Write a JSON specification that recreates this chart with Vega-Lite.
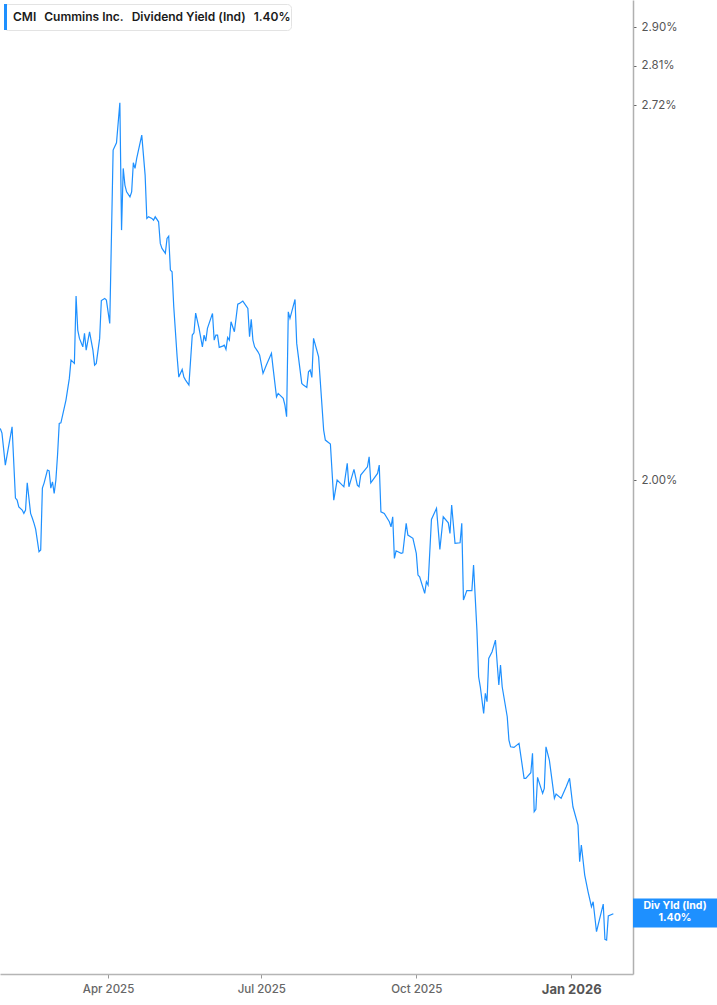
{
"$schema": "https://vega.github.io/schema/vega-lite/v6.json",
"width": 633, "height": 974, "autosize": {"type": "none"}, "padding": {"left": 0, "top": 0, "right": 84, "bottom": 31}, "background": "white",
"config": {"view": {"stroke": null}, "font": "Inter"},
"layer": [
{
"data": {"values": [
{"d":"2025-01-27","v":2.0867},{"d":"2025-01-28","v":2.0787},{"d":"2025-01-30","v":2.0248},{"d":"2025-02-03","v":2.0894},{"d":"2025-02-05","v":1.9707},{"d":"2025-02-06","v":1.9674},{"d":"2025-02-07","v":1.9566},{"d":"2025-02-09","v":1.9514},{"d":"2025-02-10","v":1.9461},{"d":"2025-02-11","v":1.9514},{"d":"2025-02-12","v":1.9956},{"d":"2025-02-14","v":1.9461},{"d":"2025-02-15","v":1.9386},{"d":"2025-02-16","v":1.9306},{"d":"2025-02-17","v":1.9212},{"d":"2025-02-19","v":1.8857},{"d":"2025-02-20","v":1.8883},{"d":"2025-02-21","v":1.9869},{"d":"2025-02-22","v":1.9951},{"d":"2025-02-24","v":2.0165},{"d":"2025-02-25","v":2.0153},{"d":"2025-02-26","v":1.9869},{"d":"2025-02-27","v":1.9972},{"d":"2025-02-28","v":1.9783},{"d":"2025-03-01","v":2.0000},{"d":"2025-03-02","v":2.0415},{"d":"2025-03-03","v":2.0953},{"d":"2025-03-04","v":2.0963},{"d":"2025-03-07","v":2.1357},{"d":"2025-03-09","v":2.1741},{"d":"2025-03-10","v":2.2070},{"d":"2025-03-12","v":2.2010},{"d":"2025-03-13","v":2.3260},{"d":"2025-03-14","v":2.2620},{"d":"2025-03-15","v":2.2467},{"d":"2025-03-17","v":2.2312},{"d":"2025-03-18","v":2.2559},{"d":"2025-03-19","v":2.2252},{"d":"2025-03-21","v":2.2589},{"d":"2025-03-23","v":2.2252},{"d":"2025-03-24","v":2.1980},{"d":"2025-03-25","v":2.2010},{"d":"2025-03-27","v":2.2467},{"d":"2025-03-28","v":2.3175},{"d":"2025-03-30","v":2.3216},{"d":"2025-03-31","v":2.3184},{"d":"2025-04-02","v":2.2745},{"d":"2025-04-04","v":2.6222},{"d":"2025-04-06","v":2.6379},{"d":"2025-04-08","v":2.7259},{"d":"2025-04-09","v":2.4555},{"d":"2025-04-10","v":2.5831},{"d":"2025-04-11","v":2.5479},{"d":"2025-04-12","v":2.5339},{"d":"2025-04-14","v":2.5235},{"d":"2025-04-15","v":2.5339},{"d":"2025-04-16","v":2.5950},{"d":"2025-04-17","v":2.5831},{"d":"2025-04-18","v":2.6043},{"d":"2025-04-21","v":2.6546},{"d":"2025-04-23","v":2.5689},{"d":"2025-04-24","v":2.4792},{"d":"2025-04-25","v":2.4825},{"d":"2025-04-27","v":2.4792},{"d":"2025-04-28","v":2.4757},{"d":"2025-04-29","v":2.4825},{"d":"2025-05-01","v":2.4723},{"d":"2025-05-02","v":2.4289},{"d":"2025-05-03","v":2.4189},{"d":"2025-05-05","v":2.4090},{"d":"2025-05-06","v":2.4388},{"d":"2025-05-07","v":2.4434},{"d":"2025-05-08","v":2.3762},{"d":"2025-05-09","v":2.3729},{"d":"2025-05-10","v":2.3057},{"d":"2025-05-12","v":2.2130},{"d":"2025-05-13","v":2.1764},{"d":"2025-05-15","v":2.1902},{"d":"2025-05-16","v":2.1764},{"d":"2025-05-17","v":2.1711},{"d":"2025-05-19","v":2.1622},{"d":"2025-05-21","v":2.2528},{"d":"2025-05-22","v":2.2570},{"d":"2025-05-23","v":2.2938},{"d":"2025-05-25","v":2.2657},{"d":"2025-05-27","v":2.2312},{"d":"2025-05-28","v":2.2528},{"d":"2025-05-29","v":2.2417},{"d":"2025-05-30","v":2.2652},{"d":"2025-06-02","v":2.2932},{"d":"2025-06-03","v":2.2435},{"d":"2025-06-04","v":2.2528},{"d":"2025-06-05","v":2.2528},{"d":"2025-06-06","v":2.2301},{"d":"2025-06-08","v":2.2325},{"d":"2025-06-09","v":2.2343},{"d":"2025-06-10","v":2.2265},{"d":"2025-06-11","v":2.2485},{"d":"2025-06-12","v":2.2435},{"d":"2025-06-13","v":2.2775},{"d":"2025-06-15","v":2.2589},{"d":"2025-06-17","v":2.3108},{"d":"2025-06-18","v":2.3121},{"d":"2025-06-20","v":2.3165},{"d":"2025-06-23","v":2.3027},{"d":"2025-06-24","v":2.2496},{"d":"2025-06-25","v":2.2820},{"d":"2025-06-26","v":2.2435},{"d":"2025-06-27","v":2.2312},{"d":"2025-06-29","v":2.2221},{"d":"2025-06-30","v":2.2161},{"d":"2025-07-02","v":2.1830},{"d":"2025-07-04","v":2.1980},{"d":"2025-07-07","v":2.2192},{"d":"2025-07-08","v":2.1920},{"d":"2025-07-10","v":2.1415},{"d":"2025-07-11","v":2.1475},{"d":"2025-07-14","v":2.1387},{"d":"2025-07-15","v":2.1270},{"d":"2025-07-16","v":2.1067},{"d":"2025-07-17","v":2.2963},{"d":"2025-07-18","v":2.2839},{"d":"2025-07-21","v":2.3197},{"d":"2025-07-22","v":2.2375},{"d":"2025-07-25","v":2.1652},{"d":"2025-07-26","v":2.1622},{"d":"2025-07-28","v":2.1581},{"d":"2025-07-29","v":2.1859},{"d":"2025-07-30","v":2.1890},{"d":"2025-07-31","v":2.1759},{"d":"2025-08-01","v":2.2467},{"d":"2025-08-04","v":2.2130},{"d":"2025-08-07","v":2.0838},{"d":"2025-08-08","v":2.0668},{"d":"2025-08-11","v":2.0600},{"d":"2025-08-13","v":1.9674},{"d":"2025-08-15","v":2.0000},{"d":"2025-08-17","v":1.9946},{"d":"2025-08-19","v":1.9890},{"d":"2025-08-21","v":2.0276},{"d":"2025-08-22","v":1.9890},{"d":"2025-08-25","v":2.0176},{"d":"2025-08-27","v":1.9918},{"d":"2025-08-28","v":1.9890},{"d":"2025-08-29","v":2.0082},{"d":"2025-09-02","v":2.0220},{"d":"2025-09-03","v":2.0386},{"d":"2025-09-04","v":1.9956},{"d":"2025-09-08","v":2.0110},{"d":"2025-09-09","v":2.0248},{"d":"2025-09-10","v":1.9486},{"d":"2025-09-12","v":1.9461},{"d":"2025-09-15","v":1.9327},{"d":"2025-09-16","v":1.9248},{"d":"2025-09-17","v":1.9407},{"d":"2025-09-18","v":1.8755},{"d":"2025-09-19","v":1.8872},{"d":"2025-09-22","v":1.8832},{"d":"2025-09-23","v":1.8842},{"d":"2025-09-25","v":1.9302},{"d":"2025-09-26","v":1.9117},{"d":"2025-09-29","v":1.9066},{"d":"2025-10-01","v":1.8832},{"d":"2025-10-02","v":1.8500},{"d":"2025-10-03","v":1.8474},{"d":"2025-10-06","v":1.8224},{"d":"2025-10-07","v":1.8398},{"d":"2025-10-08","v":1.8349},{"d":"2025-10-10","v":1.9365},{"d":"2025-10-13","v":1.9541},{"d":"2025-10-15","v":1.8894},{"d":"2025-10-17","v":1.9407},{"d":"2025-10-20","v":1.9311},{"d":"2025-10-21","v":1.9144},{"d":"2025-10-22","v":1.9594},{"d":"2025-10-24","v":1.8987},{"d":"2025-10-27","v":1.8997},{"d":"2025-10-28","v":1.9302},{"d":"2025-10-29","v":1.8124},{"d":"2025-10-31","v":1.8266},{"d":"2025-11-03","v":1.8266},{"d":"2025-11-04","v":1.8652},{"d":"2025-11-06","v":1.7683},{"d":"2025-11-07","v":1.7018},{"d":"2025-11-08","v":1.6879},{"d":"2025-11-10","v":1.6515},{"d":"2025-11-11","v":1.6788},{"d":"2025-11-12","v":1.6673},{"d":"2025-11-13","v":1.7277},{"d":"2025-11-15","v":1.7371},{"d":"2025-11-17","v":1.7539},{"d":"2025-11-19","v":1.6903},{"d":"2025-11-20","v":1.7183},{"d":"2025-11-21","v":1.6879},{"d":"2025-11-24","v":1.6469},{"d":"2025-11-25","v":1.6157},{"d":"2025-11-26","v":1.6068},{"d":"2025-11-28","v":1.6060},{"d":"2025-12-01","v":1.6113},{"d":"2025-12-04","v":1.5657},{"d":"2025-12-05","v":1.5657},{"d":"2025-12-08","v":1.5729},{"d":"2025-12-09","v":1.5981},{"d":"2025-12-10","v":1.5233},{"d":"2025-12-11","v":1.5263},{"d":"2025-12-12","v":1.5670},{"d":"2025-12-15","v":1.5465},{"d":"2025-12-16","v":1.5529},{"d":"2025-12-17","v":1.6068},{"d":"2025-12-19","v":1.5894},{"d":"2025-12-22","v":1.5402},{"d":"2025-12-23","v":1.5456},{"d":"2025-12-26","v":1.5402},{"d":"2025-12-29","v":1.5549},{"d":"2025-12-31","v":1.5657},{"d":"2026-01-02","v":1.5296},{"d":"2026-01-05","v":1.5068},{"d":"2026-01-06","v":1.4621},{"d":"2026-01-07","v":1.4823},{"d":"2026-01-09","v":1.4462},{"d":"2026-01-11","v":1.4265},{"d":"2026-01-13","v":1.4091},{"d":"2026-01-14","v":1.4149},{"d":"2026-01-16","v":1.3805},{"d":"2026-01-20","v":1.4122},{"d":"2026-01-21","v":1.3719},{"d":"2026-01-22","v":1.3711},{"d":"2026-01-23","v":1.3984},{"d":"2026-01-26","v":1.4010}
]},
"mark": {"type": "line", "strokeWidth": 1.2},
"encoding": {
"x": {"field": "d", "type": "temporal",
 "scale": {"type": "utc", "nice": false, "domain": [{"year":2025,"month":1,"date":26,"hours":20,"utc":true},{"year":2026,"month":2,"date":6,"hours":16,"utc":true}]},
 "axis": {"title": null, "grid": false,
  "values": [{"year":2025,"month":4,"date":1,"utc":true},{"year":2025,"month":7,"date":1,"utc":true},{"year":2025,"month":10,"date":1,"utc":true},{"year":2026,"month":1,"date":1,"utc":true}],
  "labelExpr": "utcFormat(datum.value, '%b %Y')",
  "domainColor": "#b5b5b5", "domainWidth": 1.5, "tickColor": "#999999", "tickSize": 4,
  "labelFont": "Inter", "labelPadding": 5, "labelFlush": false, "labelOverlap": false,
  "labelColor": {"condition": {"test": "utcmonth(datum.value) == 0", "value": "#555555"}, "value": "#666666"},
  "labelFontWeight": {"condition": {"test": "utcmonth(datum.value) == 0", "value": "bold"}, "value": 500},
  "labelFontSize": {"condition": {"test": "utcmonth(datum.value) == 0", "value": 13}, "value": 11.5}}},
"y": {"field": "v", "type": "quantitative",
 "scale": {"type": "log", "nice": false, "zero": false, "domain": [1.3334, 2.966]},
 "axis": {"orient": "right", "title": null, "grid": false, "values": [2.0, 2.72, 2.81, 2.9],
  "labelExpr": "format(datum.value, '.2f') + '%'",
  "domainColor": "#b0b0b0", "domainWidth": 1.5, "tickColor": "#666666", "tickSize": 3,
  "labelFont": "Inter", "labelColor": "#555555", "labelFontSize": 11.5, "labelPadding": 5}},
"color": {"datum": "CMI\u00a0\u00a0\u2009Cummins Inc.\u00a0\u00a0\u2009Dividend Yield (Ind)\u00a0\u00a0\u20091.40%\u00a0\u00a0",
 "scale": {"range": ["#1e90ff"]},
 "legend": {"orient": "top-left", "offset": 4, "title": null, "padding": 0,
  "fillColor": "white", "strokeColor": "#e3e3e3", "cornerRadius": 4,
  "symbolType": "M-1,-1H-0.77V1H-1Z", "symbolSize": 676, "symbolOffset": 0,
  "labelFont": "Inter", "labelFontSize": 12, "labelFontWeight": 600, "labelColor": "#1a1a1a",
  "labelOffset": -17, "labelLimit": 500,
  "encode": {"symbols": {"update": {"fill": {"value": "#1e90ff"}, "stroke": {"value": "#1e90ff"}, "strokeWidth": {"value": 0}, "opacity": {"value": 1}}}}}}
}
},
{
"data": {"values": [{"v": 1.40, "t1": "Div Yld (Ind)", "t2": "1.40%"}]},
"layer": [
 {"mark": {"type": "rect", "color": "#1e90ff", "yOffset": -16, "y2Offset": 13, "x2Offset": 85},
  "encoding": {"x": {"value": "width"}, "x2": {"value": "width"}, "y": {"field": "v", "type": "quantitative"}, "y2": {"field": "v"}}},
 {"mark": {"type": "text", "color": "white", "fontWeight": "bold", "fontSize": 10.5, "font": "Inter", "align": "center", "baseline": "middle", "dx": 42, "dy": -8.5},
  "encoding": {"x": {"value": "width"}, "y": {"field": "v", "type": "quantitative"}, "text": {"field": "t1"}}},
 {"mark": {"type": "text", "color": "white", "fontWeight": "bold", "fontSize": 10.5, "font": "Inter", "align": "center", "baseline": "middle", "dx": 42, "dy": 3},
  "encoding": {"x": {"value": "width"}, "y": {"field": "v", "type": "quantitative"}, "text": {"field": "t2"}}}
]
}
]
}
